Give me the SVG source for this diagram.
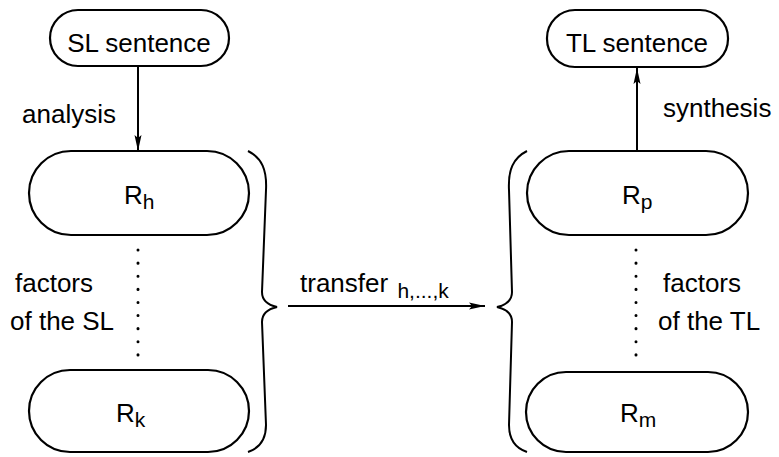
<svg xmlns="http://www.w3.org/2000/svg" width="779" height="457" viewBox="0 0 779 457">
  <style>
    .node { fill: #fff; stroke: #000; stroke-width: 2.2; }
    .txt { font-family: "Liberation Sans", Arial, sans-serif; font-size: 26px; fill: #000; }
    .lbl { font-family: "Liberation Sans", Arial, sans-serif; font-size: 26px; fill: #000; text-anchor: middle; }
    .sub { font-size: 21px; }
    .edge { fill: none; stroke: #000; stroke-width: 2; }
    .dots { fill: none; stroke: #000; stroke-width: 3; stroke-dasharray: 0.1 13; stroke-linecap: round; }
    .brace { fill: none; stroke: #000; stroke-width: 2; }
  </style>
  <defs>
    <marker id="arrow" viewBox="0 0 16 10" refX="16" refY="5" markerWidth="16" markerHeight="10" markerUnits="userSpaceOnUse" orient="auto">
      <path d="M0,1.5 L16,5 L0,8.5 L3,5 Z" fill="#000"/>
    </marker>
  </defs>

  <g id="sl-sentence">
    <rect class="node" x="50" y="10" width="179" height="56" rx="28" ry="28"/>
    <text class="lbl" x="139" y="52">SL sentence</text>
  </g>
  <g id="tl-sentence">
    <rect class="node" x="547" y="10" width="181" height="57" rx="28" ry="28"/>
    <text class="lbl" x="637" y="52">TL sentence</text>
  </g>
  <g id="r-h">
    <rect class="node" x="29" y="151" width="220" height="84" rx="42" ry="42"/>
    <text class="txt" x="124" y="204">R<tspan class="sub" dy="5">h</tspan></text>
  </g>
  <g id="r-k">
    <rect class="node" x="29" y="370" width="220" height="82" rx="41" ry="41"/>
    <text class="txt" x="116" y="422">R<tspan class="sub" dy="5">k</tspan></text>
  </g>
  <g id="r-p">
    <rect class="node" x="527" y="151" width="221" height="84" rx="42" ry="42"/>
    <text class="txt" x="622" y="204">R<tspan class="sub" dy="5">p</tspan></text>
  </g>
  <g id="r-m">
    <rect class="node" x="526" y="372" width="222" height="80" rx="40" ry="40"/>
    <text class="txt" x="620" y="422">R<tspan class="sub" dy="5">m</tspan></text>
  </g>

  <g id="connectors">
    <line class="edge" x1="138" y1="66" x2="138" y2="151" marker-end="url(#arrow)"/>
    <line class="edge" x1="637" y1="151" x2="637" y2="68" marker-end="url(#arrow)"/>
    <line class="edge" x1="288" y1="306" x2="485" y2="306" marker-end="url(#arrow)"/>
    <line class="dots" x1="138" y1="250" x2="138" y2="360"/>
    <line class="dots" x1="636" y1="250" x2="636" y2="360"/>
    <path class="brace" d="M248,151 C262,158 267,170 266,190 L262,292 C262,300 268,305 277,307 C268,309 262,314 262,322 L266,425 C266,440 260,448 248,452"/>
    <path class="brace" d="M527,151 C513,158 508,170 509,190 L512,292 C512,300 506,305 497,307 C506,309 512,314 512,322 L509,425 C509,440 515,448 527,452"/>
  </g>

  <g id="labels">
    <text class="txt" x="22" y="123">analysis</text>
    <text class="txt" x="663" y="117">synthesis</text>
    <text class="txt" x="15" y="292">factors</text>
    <text class="txt" x="10" y="330">of the SL</text>
    <text class="txt" x="663" y="292">factors</text>
    <text class="txt" x="658" y="330">of the TL</text>
    <text class="txt" x="300" y="292">transfer <tspan class="sub" dx="2" dy="6">h,...,k</tspan></text>
  </g>
</svg>
